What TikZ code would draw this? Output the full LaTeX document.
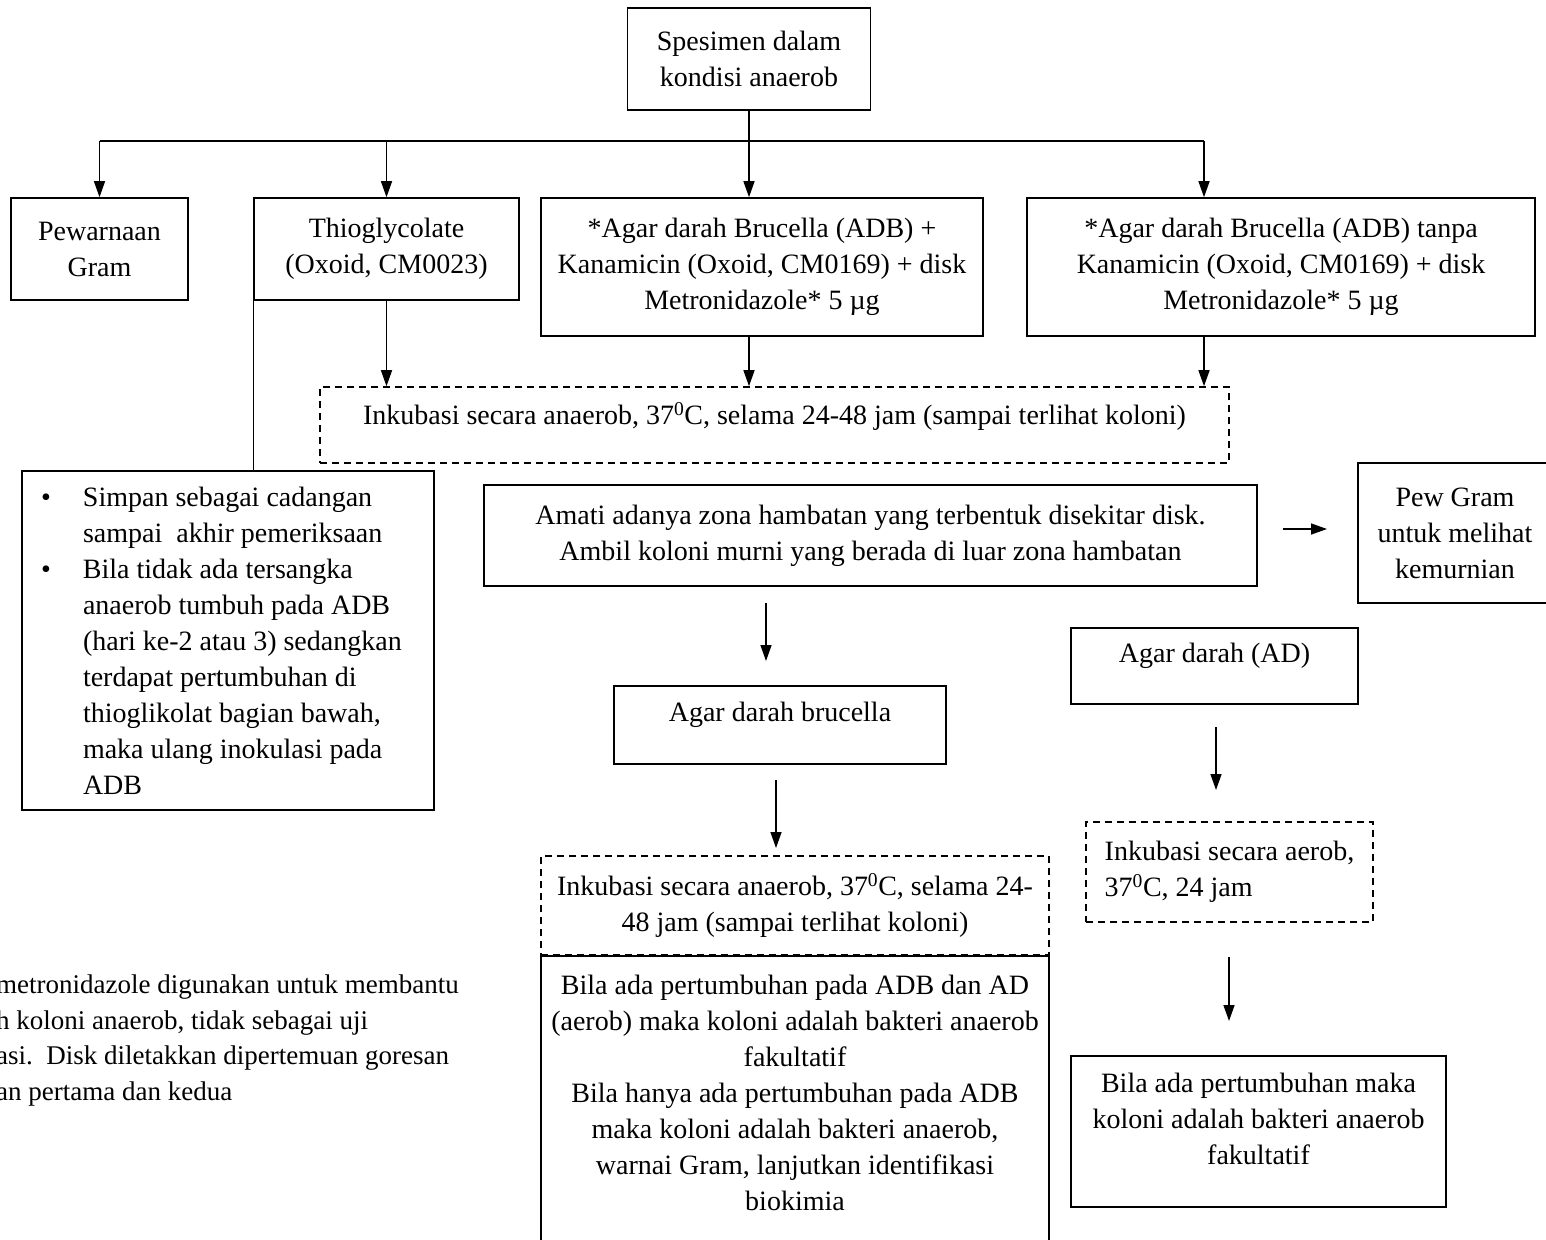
\documentclass[tikz,border=0pt]{standalone}
\usepackage{fontspec}
\setmainfont{Liberation Serif}
\usetikzlibrary{arrows.meta,positioning}

\begin{document}
\begin{tikzpicture}[
  x=1pt, y=-1pt,
  font=\fontsize{28}{36}\selectfont,
  proc/.style={draw, line width=1.6pt, align=center, inner sep=0pt},
  incub/.style={proc, dash pattern=on 7pt off 5pt},
  flow/.style={-{Triangle[length=16pt,width=11pt]}, line width=1.4pt},
  wire/.style={line width=1.4pt},
]
\useasboundingbox (0,0) rectangle (1546,1239);
\node[proc, minimum width=243pt, minimum height=102pt] (spes) at (749,59) {Spesimen dalam\\kondisi anaerob};
\node[proc, minimum width=177pt, minimum height=102pt] (gram) at (99.5,249) {Pewarnaan\\Gram};
\node[proc, minimum width=265pt, minimum height=102pt] (thio) at (386.5,249) {Thioglycolate\\(Oxoid, CM0023)};
\node[proc, minimum width=442pt, minimum height=138pt] (adbk) at (762,267) {*Agar darah Brucella (ADB) +\\Kanamicin (Oxoid, CM0169) + disk\\Metronidazole* 5 µg};
\node[proc, minimum width=508pt, minimum height=138pt] (adbt) at (1281,267) {*Agar darah Brucella (ADB) tanpa\\Kanamicin (Oxoid, CM0169) + disk\\Metronidazole* 5 µg};
\node[incub, minimum width=909pt, minimum height=76pt, text depth=24pt] (ink1) at (774.5,425) {Inkubasi secara anaerob, 37\textsuperscript{0}C, selama 24-48 jam (sampai terlihat koloni)};
\node[proc, minimum width=412pt, minimum height=339pt, align=flush left, text width=374pt] (cad) at (228,640.5) {\makebox[42pt][l]{\textbullet}Simpan sebagai cadangan\\\hspace*{42pt}sampai\ \ akhir pemeriksaan\\\makebox[42pt][l]{\textbullet}Bila tidak ada tersangka\\\hspace*{42pt}anaerob tumbuh pada ADB\\\hspace*{42pt}(hari ke-2 atau 3) sedangkan\\\hspace*{42pt}terdapat pertumbuhan di\\\hspace*{42pt}thioglikolat bagian bawah,\\\hspace*{42pt}maka ulang inokulasi pada\\\hspace*{42pt}ADB};
\node[proc, minimum width=773pt, minimum height=101pt] (amati) at (870.5,535.5) {Amati adanya zona hambatan yang terbentuk disekitar disk.\\Ambil koloni murni yang berada di luar zona hambatan};
\node[proc, minimum width=194pt, minimum height=140pt] (pew) at (1455,533) {Pew Gram\\untuk melihat\\kemurnian};
\node[proc, minimum width=332pt, minimum height=78pt, text depth=26pt] (brc) at (780,725) {Agar darah brucella};
\node[proc, minimum width=287pt, minimum height=76pt, text depth=26pt] (ad) at (1214.5,666) {Agar darah (AD)};
\node[incub, minimum width=508pt, minimum height=99pt] (ink2) at (795,905.5) {Inkubasi secara anaerob, 37\textsuperscript{0}C, selama 24-\\48 jam (sampai terlihat koloni)};
\node[proc, minimum width=508pt, inner xsep=0pt, inner ysep=19pt, text depth=25pt, anchor=north] (hasil) at (795,955) {Bila ada pertumbuhan pada ADB dan AD\\(aerob) maka koloni adalah bakteri anaerob\\fakultatif\\Bila hanya ada pertumbuhan pada ADB\\maka koloni adalah bakteri anaerob,\\warnai Gram, lanjutkan identifikasi\\biokimia};
\node[incub, minimum width=287pt, minimum height=100pt, align=left] (inka) at (1229.5,872) {Inkubasi secara aerob,\\37\textsuperscript{0}C, 24 jam};
\node[proc, minimum width=375pt, minimum height=151pt, text depth=25pt] (fak) at (1258.5,1131.5) {Bila ada pertumbuhan maka\\koloni adalah bakteri anaerob\\fakultatif};
\node[align=left, inner sep=0pt, anchor=north west, font=\fontsize{27}{35.5}\selectfont] (note) at (-4,975) {metronidazole digunakan untuk membantu\\h koloni anaerob, tidak sebagai uji\\asi.\ \ Disk diletakkan dipertemuan goresan\\an pertama dan kedua};
\coordinate (bus) at (749,141);
\coordinate (busR) at (1204,141);
\draw[wire] (bus -| gram.north) -- (busR);
\draw[flow] (spes.south) -- (spes.south |- adbk.north);
\foreach \n in {gram, thio} \draw[flow] (bus -| \n.north) -- (\n.north);
\draw[flow] (busR) -- (busR |- adbt.north);
\draw[flow] (thio.south) -- (thio.south |- ink1.north);
\draw[flow] (bus |- adbk.south) -- (bus |- ink1.north);
\draw[flow] (busR |- adbt.south) -- (busR |- ink1.north);
\draw[wire] (thio.south west) -- (thio.south west |- cad.north);
\coordinate (r0) at (1283,529); \coordinate (r1) at (1327,529);
\coordinate (m0) at (766,603); \coordinate (m1) at (766,661);
\coordinate (b0) at (776,780); \coordinate (b1) at (776,848);
\coordinate (a0) at (1216,727); \coordinate (a1) at (1216,790);
\coordinate (c0) at (1229,957); \coordinate (c1) at (1229,1021);
\foreach \a/\b in {r0/r1, m0/m1, b0/b1, a0/a1, c0/c1} \draw[flow] (\a) -- (\b);
\end{tikzpicture}
\end{document}
